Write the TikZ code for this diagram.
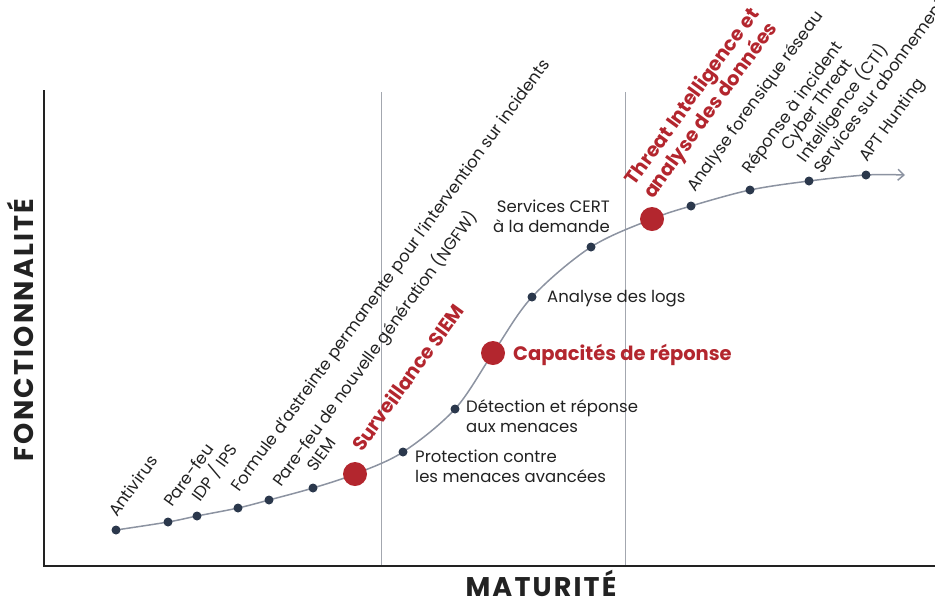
\documentclass[tikz,border=0pt]{standalone}
\usepackage{fontspec}
\setmainfont{Poppins}
\newfontfamily\axisfont[LetterSpace=8]{Poppins}
\usetikzlibrary{arrows.meta}

\definecolor{curvegray}{HTML}{8C93A1}
\definecolor{dotnavy}{HTML}{2B384C}
\definecolor{accentred}{HTML}{B3262E}
\definecolor{gridgray}{HTML}{A3A7AF}
\definecolor{inkblack}{HTML}{222222}

\begin{document}
\begin{tikzpicture}[x=1pt,y=-1pt,
  stage/.style={circle,fill=dotnavy,inner sep=0pt,minimum size=9pt},
  milestone/.style={circle,fill=accentred,inner sep=0pt,minimum size=24pt},
  lbl/.style={inner sep=0pt,text=inkblack,font=\fontsize{16.5}{20}\selectfont},
  tilted/.style={lbl,rotate=54,anchor=base west,align=left},
  flat/.style={lbl,anchor=base west,align=left},
  redtilted/.style={tilted,text=accentred,font=\fontsize{19.5}{20}\selectfont\bfseries},
  redflat/.style={flat,text=accentred,font=\fontsize{19.5}{20}\selectfont\bfseries},
  axistitle/.style={inner sep=0pt,anchor=base,text=inkblack,font=\fontsize{27}{27}\selectfont\axisfont\bfseries},
  gridline/.style={draw=gridgray,line width=0.9pt},
  axisline/.style={draw=inkblack,line width=1.4pt},
  trend/.style={draw=curvegray,line width=1.5pt}
]
\useasboundingbox (0,0) rectangle (935,598);

% frame of the chart
\coordinate (origin) at (44,566);
\coordinate (ytop) at (44,90);
\coordinate (xend) at (935,566);
\coordinate (g1top) at (381,92);
\coordinate (g1bot) at (381,566);
\coordinate (g2top) at (625,92);
\coordinate (g2bot) at (625,566);

\draw[gridline] (g1top) -- (g1bot);
\draw[gridline] (g2top) -- (g2bot);
\draw[axisline] (ytop) -- (origin) -- (xend);

% points along the maturity curve
\coordinate (p1) at (116,530);
\coordinate (p2) at (168,522);
\coordinate (p3) at (197,516);
\coordinate (p4) at (238,508);
\coordinate (p5) at (269,500);
\coordinate (p6) at (313,488);
\coordinate (m1) at (355,474);
\coordinate (p7) at (403,452);
\coordinate (p8) at (455,409);
\coordinate (m2) at (493,353);
\coordinate (p9) at (532,297);
\coordinate (p10) at (591,247);
\coordinate (m3) at (652,219);
\coordinate (p11) at (691,206);
\coordinate (p12) at (750,190);
\coordinate (p13) at (809,181);
\coordinate (p14) at (866,175);
\coordinate (tip) at (905,175);

\draw[trend,-{Straight Barb[length=6pt,width=11pt]}] plot[smooth,tension=0.55] coordinates
  {(p1) (p2) (p3) (p4) (p5) (p6) (m1) (p7) (p8) (m2) (p9) (p10) (m3) (p11) (p12) (p13) (p14) (tip)};

\foreach \p in {p1,p2,p3,p4,p5,p6,p7,p8,p9,p10,p11,p12,p13,p14}
  \node[stage] (dot-\p) at (\p) {};
\node[milestone] (siem) at (m1) {};
\node[milestone] (reponse) at (m2) {};
\node[milestone] (threat) at (m3) {};

% labels of the stages (multi-line labels are placed by their last line)
\node[tilted] (l1) at (117,518) {Antivirus};
\node[tilted] (l2) at (172,508) {Pare-feu};
\node[tilted] (l3) at (200,503) {IDP / IPS};
\node[tilted] (l4) at (239,493) {Formule d'astreinte permanente pour l'intervention sur incidents};
\node[tilted] (l5) at (281,488) {Pare-feu de nouvelle génération (NGFW)};
\node[tilted] (l6) at (315,473) {SIEM};
\node[flat] (l7) at (415,482) {Protection contre\\les menaces avancées};
\node[flat] (l8) at (466,432) {Détection et réponse\\aux menaces};
\node[flat] (l9) at (547,302) {Analyse des logs};
\node[lbl,anchor=base east,align=right] (l10) at (610,232) {Services CERT\\à la demande};
\node[tilted] (l11) at (695,193) {Analyse forensique réseau};
\node[tilted] (l12) at (750,175) {Réponse à incident};
\node[tilted] (l13) at (822,175) {Cyber Threat\\Intelligence (CTI)\\Services sur abonnement};
\node[tilted] (l14) at (867,163) {APT Hunting};

% labels of the milestones
\node[redtilted] (t1) at (362,453) {Surveillance SIEM};
\node[redflat] (t2) at (513,360) {Capacités de réponse};
\node[redtilted] (t3) at (653,200) {Threat Intelligence et\\analyse des données};

% axis titles
\node[axistitle,rotate=90] (ytitle) at (33,330) {FONCTIONNALITÉ};
\node[axistitle] (xtitle) at (541,596) {MATURITÉ};
\end{tikzpicture}
\end{document}
